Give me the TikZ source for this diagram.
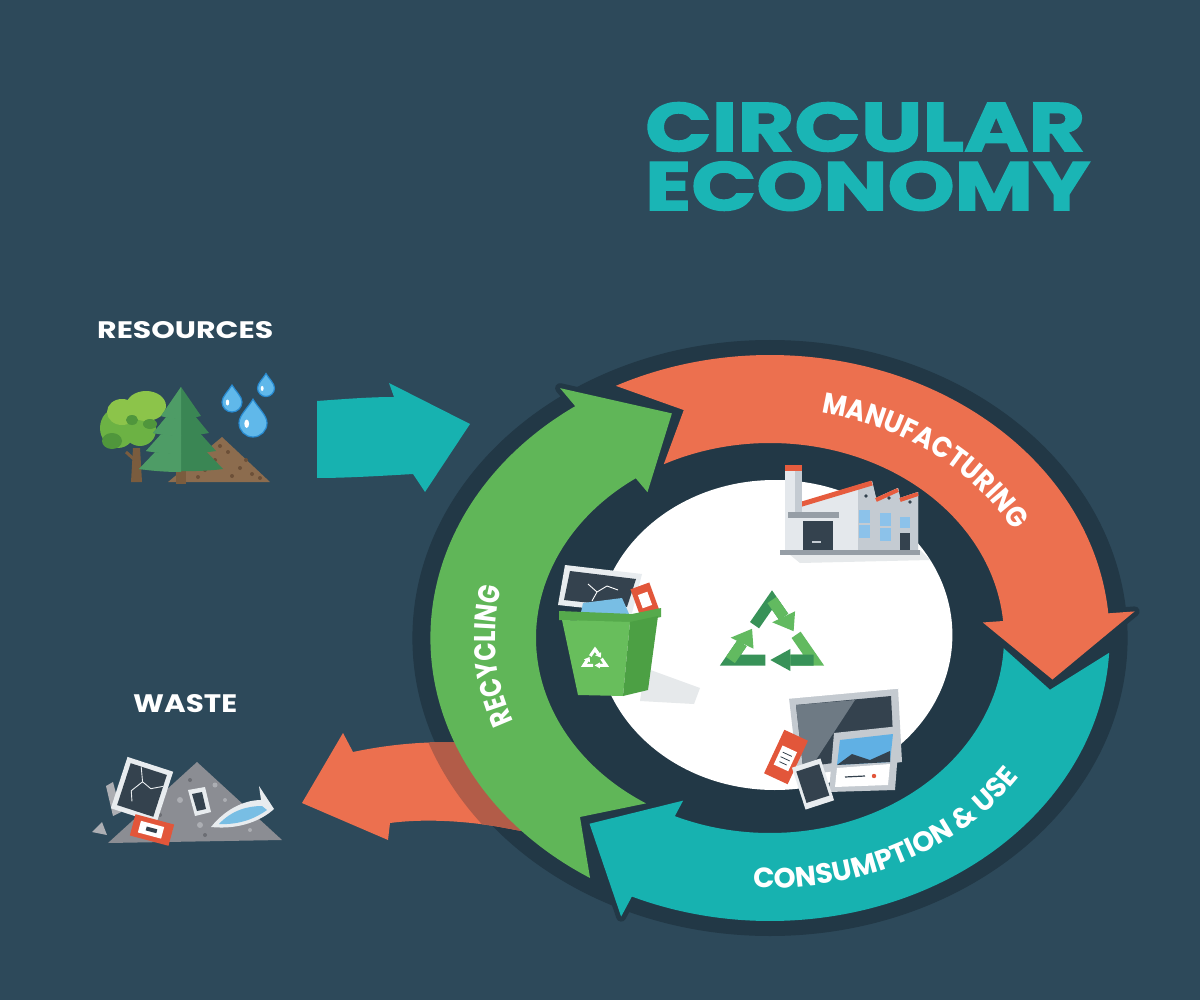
\documentclass[tikz,border=0pt]{standalone}
\usepackage{fontspec}
\usepackage{graphicx}
\usetikzlibrary{decorations.text}
\newfontfamily\pop{Poppins}
\newfontfamily\popr{Poppins}[FakeStretch=0.8]
\newfontfamily\popm{Poppins}[FakeStretch=0.9]
\newfontfamily\poptitle{Poppins}[BoldFeatures={FakeBold=1.8}]
\newcommand\recfont{\popr\bfseries\fontsize{30pt}{30pt}\selectfont}
\newcommand\manfont{\popm\bfseries\fontsize{29pt}{29pt}\selectfont}
\newcommand\confont{\pop\bfseries\fontsize{28pt}{28pt}\selectfont}
\definecolor{bg}{RGB}{45,73,90}
\definecolor{ringdark}{RGB}{34,56,70}
\definecolor{cteal}{RGB}{23,178,176}
\definecolor{titleteal}{RGB}{26,181,181}
\definecolor{corange}{RGB}{236,112,79}
\definecolor{oshade}{RGB}{178,92,72}
\definecolor{cgreen}{RGB}{96,182,88}
\definecolor{recdark}{RGB}{56,146,88}
\definecolor{reclight}{RGB}{98,186,96}
\definecolor{trunk}{RGB}{122,92,62}
\definecolor{treeL}{RGB}{140,196,74}
\definecolor{treeM}{RGB}{108,178,68}
\definecolor{treeD}{RGB}{80,150,60}
\definecolor{pineD}{RGB}{58,134,84}
\definecolor{pineL}{RGB}{78,156,102}
\definecolor{soil}{RGB}{140,108,78}
\definecolor{soilD}{RGB}{108,80,56}
\definecolor{dropblue}{RGB}{96,184,234}
\definecolor{dropedge}{RGB}{40,138,208}
\definecolor{pilegray}{RGB}{139,141,147}
\definecolor{pilelight}{RGB}{172,174,179}
\definecolor{piledark}{RGB}{108,110,116}
\definecolor{framewhite}{RGB}{232,236,239}
\definecolor{framegray}{RGB}{196,202,208}
\definecolor{screendark}{RGB}{52,66,78}
\definecolor{screenlight}{RGB}{110,122,132}
\definecolor{canred}{RGB}{226,86,58}
\definecolor{paperblue}{RGB}{120,190,228}
\definecolor{skyblue}{RGB}{96,176,228}
\definecolor{wallA}{RGB}{228,232,236}
\definecolor{wallB}{RGB}{196,203,210}
\definecolor{midgray}{RGB}{150,158,166}
\definecolor{roofred}{RGB}{230,92,62}
\definecolor{winblue}{RGB}{140,194,234}
\definecolor{shadowgray}{RGB}{230,233,235}
\definecolor{bingreen}{RGB}{104,190,92}
\definecolor{bingreenS}{RGB}{76,160,68}
\definecolor{bingreenD}{RGB}{86,170,76}
% ring arrow: tail angle, barb angle, style
\newcommand\ringarrow[3]{%
  \path[#3] (#1:283) arc[start angle=#1, end angle=#2, radius=283] -- (#2:305) -- ({#2-15}:239) -- (#2:178) -- (#2:195) arc[start angle=#2, end angle=#1, radius=195] -- ({#1-9.5}:239) -- cycle;}
% recycle chevron: rotation, tail colour, head colour, line width
\newcommand\chevron[4]{%
  \begin{scope}[rotate=#1]
    \draw[#2, line width=#4, line join=miter] (-14.55,14.8) -- (0,40) -- (9.70,23.2);
    \draw[#3, line width=#4] (0,40) -- (9.70,23.2);
    \fill[#3] (19.23,28.7) -- (18.01,8.8) -- (0.17,17.7) -- cycle;
  \end{scope}}
% water drop: x, y, r
\newcommand\drop[3]{%
  \begin{scope}[shift={(#1,#2)}, yscale=-1, scale=#3]
    \filldraw[fill=dropblue, draw=dropedge, line width=1.2pt] (0,1.7) .. controls (0.35,1.1) and (1,0.55) .. (1,0) arc[start angle=0, end angle=-180, radius=1] .. controls (-1,0.55) and (-0.35,1.1) .. (0,1.7) -- cycle;
    \fill[white] (-0.45,-0.05) ellipse[x radius=0.17, y radius=0.3];
  \end{scope}}
% pine tier: apex y, bottom y, half width
\newcommand\tier[3]{%
  \fill[pineD] (181,#1) -- (181+#3,#2) .. controls (181+#3*0.5,#2+3) and (181-#3*0.5,#2+3) .. (181-#3,#2) -- cycle;
  \fill[pineL] (181,#1) -- (181,#2+3) .. controls (181-#3*0.5,#2+3) and (181-#3*0.8,#2+1) .. (181-#3,#2) -- cycle;}
\begin{document}
\begin{tikzpicture}[x=1pt, y=-1pt]
\useasboundingbox (0,0) rectangle (1200,1000);
\fill[bg] (0,0) rectangle (1200,1000);

% dark disc behind ring
\begin{scope}[shift={(770,638)}, xscale=1.2, yscale=-1]
  \fill[ringdark] (0,0) circle[radius=298];
\end{scope}

% resources arrow
\fill[cteal] (317,401) .. controls (345,399) and (370,397) .. (394,397) -- (389,383) -- (470,424) -- (425,492) -- (413,474) .. controls (380,476) and (345,478) .. (317,478) -- cycle;

% ring arrow outlines
\begin{scope}[shift={(770,638)}, xscale=1.2, yscale=-1]
  \ringarrow{117}{5}{draw=ringdark, line width=10pt, line join=round}
  \ringarrow{-3}{-114}{draw=ringdark, line width=10pt, line join=round}
  \ringarrow{238}{125}{draw=ringdark, line width=10pt, line join=round}
\end{scope}

% waste arrow
\fill[corange] (302,803) -- (343,733) -- (353,752) .. controls (395,743) and (440,740) .. (480,744) -- (545,752) -- (570,840) -- (500,827) .. controls (460,820) and (420,819) .. (390,823) -- (388,840) -- cycle;
\begin{scope}
  \clip (302,803) -- (343,733) -- (353,752) .. controls (395,743) and (440,740) .. (480,744) -- (545,752) -- (570,840) -- (500,827) .. controls (460,820) and (420,819) .. (390,823) -- (388,840) -- cycle;
  \begin{scope}[shift={(770,638)}, xscale=1.2, yscale=-1]
    \draw[oshade, line width=24pt] (190:293) arc[start angle=190, end angle=245, radius=293];
  \end{scope}
\end{scope}

% ring arrows, white disc, curved labels
\begin{scope}[shift={(770,638)}, xscale=1.2, yscale=-1]
  \ringarrow{117}{5}{fill=corange}
  \ringarrow{-3}{-114}{fill=cteal}
  \ringarrow{238}{125}{fill=cgreen}
  \fill[white] (4,3) ellipse[x radius=148, y radius=155];
  \path[decorate, decoration={text along path, text align=center, text color=white, text={|\manfont|MANUFACTURING}}] (97:229) arc[start angle=97, end angle=7, radius=229];
  \path[decorate, decoration={text along path, text align=center, text color=white, text={|\recfont|RECYCLING}}] (229:229) arc[start angle=229, end angle=139, radius=229];
  \path[decorate, decoration={text along path, text align=center, text color=white, text={|\confont|CONSUMPTION {\&} USE}}] (-112:250) arc[start angle=-112, end angle=-12, radius=250];
\end{scope}

% title and side labels
\node[anchor=south west, inner sep=0pt, text=titleteal] (title1) at (645,152) {\resizebox{440pt}{49pt}{\poptitle\bfseries CIRCULAR}};
\node[anchor=south west, inner sep=0pt, text=titleteal] (title2) at (645,211) {\resizebox{445pt}{49pt}{\poptitle\bfseries ECONOMY}};
\node[anchor=south west, inner sep=0pt, text=white] (resources) at (97,339) {\resizebox{176pt}{17pt}{\pop\bfseries RESOURCES}};
\node[anchor=south west, inner sep=0pt, text=white] (waste) at (133,713) {\resizebox{104pt}{18pt}{\pop\bfseries WASTE}};

% ---- resources icon ----
\fill[soil] (168,482) -- (222,437) -- (270,482) -- cycle;
\foreach \p in {(205,470),(215,460),(228,452),(240,468),(252,474),(232,476),(220,446),(246,460),(198,477),(260,478)}
  \fill[soilD] \p circle[radius=2];
\fill[trunk] (133,448) -- (140,448) -- (142,482) -- (131,482) -- cycle;
\draw[trunk, line width=3pt] (137,462) -- (126,452);
\fill[treeM] (118,428) ellipse[x radius=18, y radius=20];
\fill[treeM] (140,430) ellipse[x radius=16, y radius=16];
\fill[treeL] (122,412) ellipse[x radius=15, y radius=13];
\fill[treeL] (146,406) ellipse[x radius=20, y radius=15];
\fill[treeD] (112,441) ellipse[x radius=10, y radius=8];
\fill[treeD] (132,420) ellipse[x radius=6, y radius=5];
\fill[treeD] (150,424) ellipse[x radius=7, y radius=5];
\fill[trunk] (176,466) rectangle (186,484);
\tier{425}{469}{42}
\tier{412}{451}{35}
\tier{399}{433}{28}
\tier{387}{416}{20}
\drop{232}{402}{10}
\drop{266}{388}{8.5}
\drop{253}{423}{14}

% ---- waste icon ----
\fill[pilegray] (108,843) -- (197,762) -- (282,840) -- cycle;
\foreach \p/\r in {(180,800)/3,(215,785)/2.5,(235,815)/3,(170,830)/2.5,(250,830)/2,(200,825)/3,(225,800)/2}
  \fill[pilelight] \p circle[radius=\r];
\foreach \p in {(190,780),(205,835),(240,822),(160,815)}
  \fill[piledark] \p circle[radius=2];
\fill[pilelight] (106,786) -- (113,782) -- (121,812) -- (113,816) -- cycle;
\fill[pilelight] (92,832) -- (102,822) -- (107,835) -- cycle;
\begin{scope}[shift={(142,790)}, rotate=-18]
  \fill[framewhite] (-24,-27) rectangle (24,27);
  \fill[screendark] (-19,-22) rectangle (19,22);
  \draw[framewhite, line width=0.9pt] (-8,-22) -- (-2,-8) -- (8,-4) (-2,-8) -- (-10,4) -- (-6,14) (8,-4) -- (19,-10);
\end{scope}
\fill[framewhite] (188,790) -- (205,787) -- (211,812) -- (195,816) -- cycle;
\fill[screendark] (192,794) -- (202,792) -- (206,809) -- (197,811) -- cycle;
\begin{scope}[shift={(152,830)}, rotate=-15]
  \fill[canred] (-20,-11) rectangle (20,11);
  \fill[white] (-13,-6) rectangle (11,6);
  \fill[screendark] (-6,-2) rectangle (5,2);
\end{scope}
\fill[framewhite] (211,827) .. controls (228,806) and (248,800) .. (261,800) -- (259,786) -- (274,809) .. controls (262,820) and (240,830) .. (211,827) -- cycle;
\fill[paperblue] (219,824) .. controls (232,810) and (248,806) .. (262,806) -- (267,810) .. controls (256,818) and (240,825) .. (219,824) -- cycle;

% ---- white disc shadows ----
\fill[shadowgray] (645,668) -- (700,688) -- (694,704) -- (640,701) -- cycle;
\fill[shadowgray] (784,550) -- (920,550) -- (930,560) -- (800,563) -- cycle;

% ---- factory ----
\fill[wallA] (792,505) -- (872,481) -- (876,498) -- (898,488) -- (900,498) -- (918,492) -- (918,552) -- (792,552) -- cycle;
\fill[wallB] (858,485) -- (872,481) -- (876,498) -- (898,488) -- (900,498) -- (918,492) -- (918,552) -- (858,552) -- cycle;
\draw[roofred, line width=5pt] (792,507) -- (872,483);
\draw[roofred, line width=4pt] (876,500) -- (898,490);
\draw[roofred, line width=4pt] (900,500) -- (918,494);
\fill[wallA] (785,468) rectangle (802,552);
\fill[wallB] (795,468) rectangle (802,552);
\fill[roofred] (785,465) rectangle (802,471);
\fill[wallA] (790,516) rectangle (837,552);
\fill[midgray] (788,512) rectangle (839,518);
\fill[screendark] (803,521) rectangle (833,552);
\fill[wallB] (812,541) rectangle (821,543);
\fill[winblue] (859,510) rectangle (870,523);
\fill[winblue] (859,525) rectangle (870,538);
\fill[winblue] (880,513) rectangle (891,526);
\fill[winblue] (880,528) rectangle (891,541);
\fill[winblue] (900,517) rectangle (910,528);
\fill[screendark] (900,533) rectangle (910,551);
\fill[screendark] (866,496) circle[radius=1.8];
\fill[screendark] (889,498) circle[radius=1.8];
\fill[screendark] (910,502) circle[radius=1.8];
\fill[midgray] (780,550) rectangle (920,555);

% ---- recycling bin ----
\fill[framewhite] (565,565) -- (642,574) -- (632,613) -- (558,605) -- cycle;
\fill[screendark] (570,571) -- (636,579) -- (627,607) -- (564,600) -- cycle;
\draw[white, line width=0.9pt] (588,584) -- (597,592) -- (607,586) (597,592) -- (592,601) (607,586) -- (618,590);
\fill[paperblue] (583,603) -- (622,598) -- (630,616) -- (580,617) -- cycle;
\begin{scope}[shift={(645,600)}, rotate=20]
  \fill[canred] (-10,-15) rectangle (10,15);
  \fill[white] (-5,-7) rectangle (5,7);
\end{scope}
\fill[bingreenD] (559,611) -- (632,614) -- (661,608) -- (661,617) -- (632,623) -- (559,620) -- cycle;
\fill[bingreen] (562,620) -- (630,622) -- (623,696) -- (578,695) -- cycle;
\fill[bingreenS] (630,622) -- (658,616) -- (648,690) -- (623,696) -- cycle;
\begin{scope}[shift={(595,660)}, xscale=1.2, yscale=-1, scale=0.27]
  \chevron{0}{white}{white}{3pt}
  \chevron{-120}{white}{white}{3pt}
  \chevron{120}{white}{white}{3pt}
\end{scope}

% ---- devices ----
\fill[framegray] (789,698) -- (898,688) -- (902,762) -- (798,776) -- cycle;
\draw[white, line width=1.5pt] (789,698) -- (898,688);
\fill[screendark] (796,705) -- (891,696) -- (894,755) -- (803,767) -- cycle;
\fill[screenlight] (796,705) -- (855,700) -- (812,766) -- (803,767) -- cycle;
\fill[framegray] (834,733) -- (900,726) -- (895,790) -- (829,792) -- cycle;
\fill[skyblue] (840,740) -- (893,734) -- (890,762) -- (837,765) -- cycle;
\fill[screendark] (837,765) -- (852,754) -- (870,760) -- (890,751) -- (890,762) -- cycle;
\fill[white] (837,768) -- (890,764) -- (888,785) -- (835,787) -- cycle;
\draw[screendark, line width=1.2pt] (845,777) -- (865,776);
\fill[canred] (874,776) circle[radius=2.2];
\begin{scope}[shift={(786,757)}, rotate=-25]
  \fill[canred] (-13,-24) rectangle (13,24);
  \fill[white] (-8,-9) rectangle (8,12);
  \draw[screendark, line width=0.8pt] (-5,-3) -- (5,-3) (-5,2) -- (5,2) (-4,7) -- (4,7);
\end{scope}
\begin{scope}[shift={(813,784)}, rotate=18]
  \fill[framewhite] (-15,-22) rectangle (15,22);
  \fill[screendark] (-12,-17) rectangle (12,16);
\end{scope}

% ---- central recycle symbol ----
\begin{scope}[shift={(772,640)}, xscale=1.2, yscale=-1]
  \chevron{0}{recdark}{reclight}{11pt}
  \chevron{-120}{recdark}{reclight}{11pt}
  \chevron{120}{reclight}{recdark}{11pt}
\end{scope}
\end{tikzpicture}
\end{document}
